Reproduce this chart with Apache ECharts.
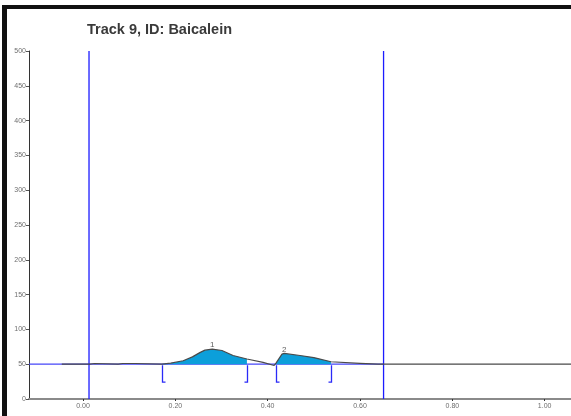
<!DOCTYPE html>
<html>
<head>
<meta charset="utf-8">
<style>
  html, body { margin: 0; padding: 0; background: #ffffff; }
  #chart { width: 571px; height: 416px; }
</style>
<script src="https://cdn.jsdelivr.net/npm/echarts@6/dist/echarts.min.js"></script>
</head>
<body>
<div id="chart"></div>
<script>
// Densitogram of track 9 (Baicalein): Rf position vs. detector response.
const titleText = 'Track 9, ID: Baicalein';

// Scanned signal, [Rf, response]
const signal = [
  [-0.046, 50], [0.015, 50], [0.018, 51], [0.025, 51], [0.028, 50],
  [0.076, 50], [0.079, 51], [0.086, 51], [0.088, 50.3], [0.09, 51],
  [0.112, 51], [0.115, 50], [0.171, 50.2], [0.19, 51.5], [0.217, 55],
  [0.237, 60.5], [0.254, 67], [0.264, 70.2], [0.28, 71.6], [0.301, 69.7],
  [0.325, 62.5], [0.355, 57.5], [0.39, 52.7], [0.414, 48.2], [0.418, 51.5],
  [0.431, 64.5], [0.436, 65.5], [0.47, 62.5], [0.5, 59.5], [0.537, 53.5],
  [0.6, 51.3], [0.639, 50], [1.057, 50]
];

// Integrated peaks
const peakNames = ['1', '2'];
const peakStart = [0.171, 0.418];
const peakEnd = [0.355, 0.537];
const peakApex = [[0.28, 71.6], [0.436, 65.5]];

// Baseline level and evaluation window (application / solvent front)
const baselineLevel = 50;
const windowLines = [0.013, 0.651];

// Axis ranges and ticks
const xRange = [-0.117, 1.057];
const xTickValues = [0.0, 0.2, 0.4, 0.6, 0.8, 1.0];
const yRange = [0, 500];
const yStep = 50;

const chart = echarts.init(document.getElementById('chart'), null, { renderer: 'canvas' });

const peakSeries = peakStart.map((lo, i) => ({
  type: 'line',
  data: signal.filter(p => p[0] >= lo && p[0] <= peakEnd[i]),
  showSymbol: false,
  silent: true,
  lineStyle: { width: 0 },
  areaStyle: { color: '#0c9fda', opacity: 1, origin: baselineLevel },
  z: 2
}));

const windowSeries = windowLines.map(x => ({
  type: 'line',
  data: [[x, yRange[0]], [x, yRange[1]]],
  showSymbol: false,
  silent: true,
  lineStyle: { color: '#1c1cff', width: 1.3 },
  itemStyle: { color: '#1c1cff' },
  z: 1
}));

function bracketRenderer(dir) {
  return function (params, api) {
    const p = api.coord([api.value(0), baselineLevel]);
    const x = Math.round(p[0]) + 0.5;
    const y0 = p[1] + 1;
    const y1 = p[1] + 18;
    return {
      type: 'polyline',
      shape: { points: [[x, y0], [x, y1], [x + dir * 3, y1]] },
      style: { stroke: '#2a2af8', lineWidth: 1.3, fill: null }
    };
  };
}

const option = {
  animation: false,
  backgroundColor: '#ffffff',
  title: {
    text: titleText,
    left: 82,
    top: 17,
    textStyle: {
      fontFamily: 'Liberation Sans',
      fontSize: 14.5,
      fontWeight: 'bold',
      color: '#3a3a3a'
    }
  },
  grid: { left: 29, right: 0, top: 51, bottom: 17, containLabel: false },
  xAxis: {
    type: 'value',
    min: xRange[0],
    max: xRange[1],
    axisLine: { show: true, onZero: false, lineStyle: { color: '#8a8a8a', width: 2 } },
    axisTick: {
      show: true, length: 2, customValues: xTickValues,
      lineStyle: { color: '#333', width: 1 }
    },
    axisLabel: {
      customValues: xTickValues,
      formatter: v => v.toFixed(2),
      fontFamily: 'Liberation Sans',
      fontSize: 7,
      color: '#6e6e6e',
      margin: 4
    },
    splitLine: { show: false }
  },
  yAxis: {
    type: 'value',
    min: yRange[0],
    max: yRange[1],
    interval: yStep,
    axisLine: { show: true, onZero: false, lineStyle: { color: '#333', width: 1 } },
    axisTick: { show: true, length: 3, lineStyle: { color: '#555', width: 1 } },
    axisLabel: {
      fontFamily: 'Liberation Sans',
      fontSize: 7,
      color: '#6e6e6e',
      margin: 3
    },
    splitLine: { show: false }
  },
  series: [
    {
      // baseline
      type: 'line',
      data: [[xRange[0], baselineLevel], [windowLines[1], baselineLevel]],
      showSymbol: false,
      silent: true,
      lineStyle: { color: '#4646f8', width: 1.2 },
      itemStyle: { color: '#4646f8' },
      z: 1
    },
    ...windowSeries,
    ...peakSeries,
    {
      type: 'line',
      data: signal,
      showSymbol: false,
      silent: true,
      lineStyle: { color: '#4a4a4a', width: 1.2 },
      z: 3
    },
    {
      type: 'custom',
      data: peakStart.map(x => [x]),
      renderItem: bracketRenderer(1),
      silent: true,
      z: 4
    },
    {
      type: 'custom',
      data: peakEnd.map(x => [x]),
      renderItem: bracketRenderer(-1),
      silent: true,
      z: 4
    },
    {
      type: 'scatter',
      data: peakApex.map((p, i) => ({ value: p, name: peakNames[i] })),
      symbolSize: 0,
      silent: true,
      label: {
        show: true,
        position: 'top',
        distance: 0,
        formatter: p => p.name,
        fontFamily: 'Liberation Sans',
        fontSize: 8,
        color: '#333'
      },
      z: 5
    }
  ],
  graphic: [
    { type: 'rect', shape: { x: 2, y: 5, width: 569, height: 4 }, style: { fill: '#111' }, z: 100 },
    { type: 'rect', shape: { x: 2, y: 5, width: 5, height: 411 }, style: { fill: '#111' }, z: 100 }
  ]
};

chart.setOption(option);
</script>
</body>
</html>
